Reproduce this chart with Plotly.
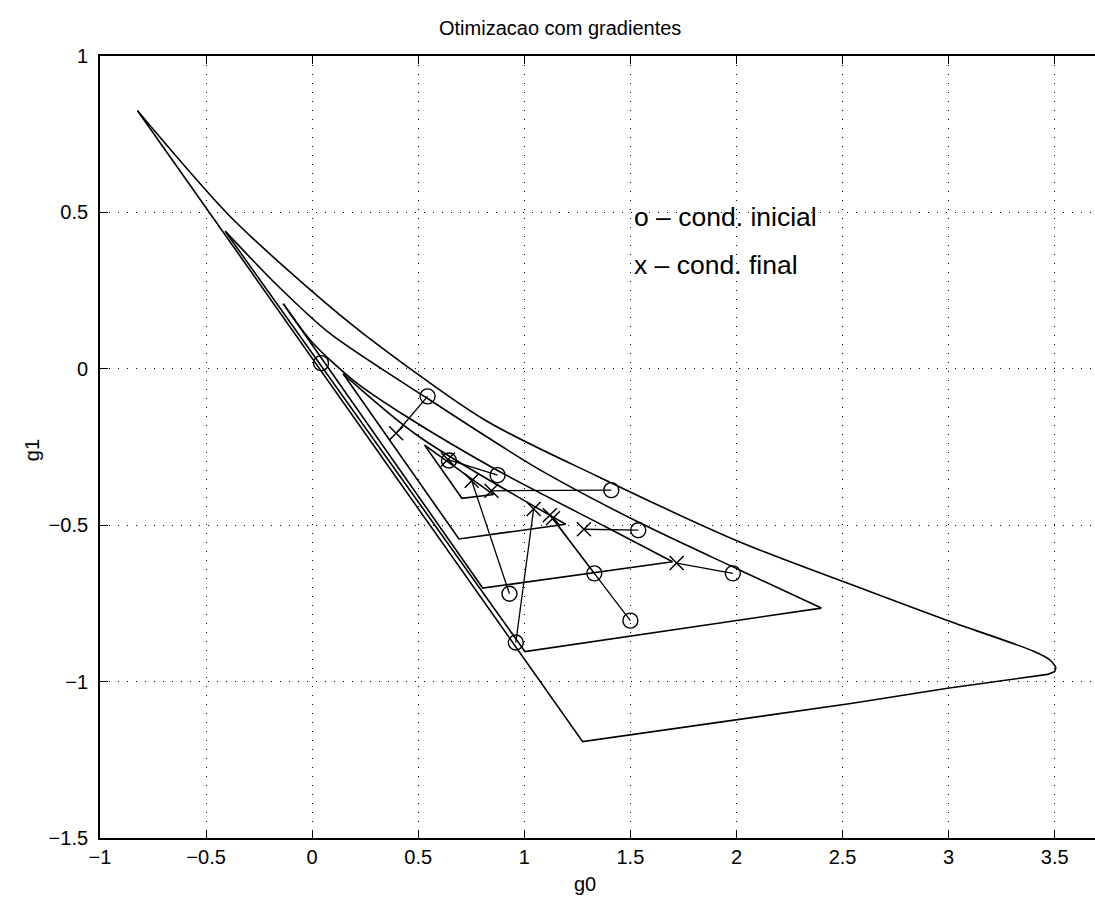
import plotly.graph_objects as go

# Stability regions in the (g0, g1) plane.  Each region has a curved upper
# boundary (apex -> right vertex) and straight edges closing it
# (right vertex -> bottom vertex -> apex).
region1_upper_g0 = [-0.823, -0.392, 0.004, 0.242, 0.812, 1.349, 2.013,
                    2.628, 3.007, 3.401, 3.48, 3.506]
region1_upper_g1 = [0.825, 0.491, 0.245, 0.112, -0.163, -0.345, -0.553,
                    -0.712, -0.808, -0.903, -0.932, -0.955]
region1_edge_g0 = [3.506, 3.50, 3.466, 2.995, 2.539, 2.303, 1.275, -0.823]
region1_edge_g1 = [-0.955, -0.968, -0.977, -1.021, -1.07, -1.093, -1.192, 0.825]

region2_upper_g0 = [-0.41, -0.169, 0.082, 0.544, 1.066, 1.537, 2.014, 2.40]
region2_upper_g1 = [0.44, 0.27, 0.114, -0.095, -0.32, -0.49, -0.643, -0.765]
region2_edge_g0 = [2.40, 1.003, -0.41]
region2_edge_g1 = [-0.765, -0.904, 0.44]

region3_upper_g0 = [-0.136, 0.0, 0.2, 0.45, 0.874, 1.383, 1.699]
region3_upper_g1 = [0.208, 0.085, -0.04, -0.155, -0.325, -0.505, -0.617]
region3_edge_g0 = [1.699, 0.804, -0.136]
region3_edge_g1 = [-0.617, -0.701, 0.208]

region4_upper_g0 = [0.146, 0.498, 1.195]
region4_upper_g1 = [-0.016, -0.214, -0.497]
region4_edge_g0 = [1.195, 0.692, 0.146]
region4_edge_g1 = [-0.497, -0.544, -0.016]

region5_upper_g0 = [0.53, 0.855]
region5_upper_g1 = [-0.244, -0.402]
region5_edge_g0 = [0.855, 0.706, 0.53]
region5_edge_g1 = [-0.402, -0.414, -0.244]

# Gradient runs: initial condition (o) -> final condition (x)
start_g0 = [0.544, 0.874, 1.41, 1.537, 1.983, 1.33, 1.50, 0.93, 0.96]
start_g1 = [-0.088, -0.34, -0.388, -0.516, -0.654, -0.654, -0.805, -0.719, -0.875]
end_g0 = [0.396, 0.64, 0.845, 1.281, 1.718, 1.135, 1.12, 0.752, 1.044]
end_g1 = [-0.206, -0.29, -0.39, -0.513, -0.621, -0.478, -0.468, -0.358, -0.448]

# Extra initial points sitting on the region edges
extra_start_g0 = [0.042, 0.645]
extra_start_g1 = [0.018, -0.293]

x_ticks = [-1, -0.5, 0, 0.5, 1, 1.5, 2, 2.5, 3, 3.5]
y_ticks = [-1.5, -1, -0.5, 0, 0.5, 1]

FONT = "Liberation Sans, Arial, Helvetica, sans-serif"
LINE = dict(color="black", width=1.6)

fig = go.Figure()

uppers = [(region1_upper_g0, region1_upper_g1), (region2_upper_g0, region2_upper_g1),
          (region3_upper_g0, region3_upper_g1), (region4_upper_g0, region4_upper_g1),
          (region5_upper_g0, region5_upper_g1)]
edges = [(region1_edge_g0, region1_edge_g1), (region2_edge_g0, region2_edge_g1),
         (region3_edge_g0, region3_edge_g1), (region4_edge_g0, region4_edge_g1),
         (region5_edge_g0, region5_edge_g1)]

for gx, gy in uppers:
    fig.add_trace(go.Scatter(x=gx, y=gy, mode="lines",
                             line=dict(color="black", width=1.6, shape="spline",
                                       smoothing=0.8),
                             hoverinfo="skip", showlegend=False))
for gx, gy in edges:
    fig.add_trace(go.Scatter(x=gx, y=gy, mode="lines", line=LINE,
                             hoverinfo="skip", showlegend=False))

for x0, y0, x1, y1 in zip(start_g0, start_g1, end_g0, end_g1):
    fig.add_trace(go.Scatter(x=[x0, x1], y=[y0, y1], mode="lines",
                             line=dict(color="black", width=1.3),
                             hoverinfo="skip", showlegend=False))

fig.add_trace(go.Scatter(
    x=start_g0 + extra_start_g0, y=start_g1 + extra_start_g1, mode="markers",
    marker=dict(symbol="circle-open", size=15, color="black",
                line=dict(width=1.4, color="black")),
    showlegend=False))
fig.add_trace(go.Scatter(
    x=end_g0, y=end_g1, mode="markers",
    marker=dict(symbol="x-thin-open", size=14, color="black",
                line=dict(width=1.5, color="black")),
    showlegend=False))

axis_common = dict(
    showgrid=True, gridcolor="black", gridwidth=1, griddash="1px,8px",
    zeroline=False, showline=True, linecolor="black", linewidth=1.8,
    ticks="inside", ticklen=8, tickcolor="black", tickwidth=1.2,
    tickfont=dict(family=FONT, size=20, color="black"),
)

fig.update_xaxes(range=[-1, 3.69], tickvals=x_ticks, mirror="ticks",
                 **axis_common)
fig.update_yaxes(range=[-1.5, 1], tickvals=y_ticks, mirror=False,
                 ticklabelstandoff=6, **axis_common)

text_font = dict(family=FONT, size=20, color="black")
note_font = dict(family=FONT, size=26.5, color="black")
fig.add_annotation(x=1.508, y=0.486, xref="x", yref="y", text="o – cond. inicial",
                   showarrow=False, xanchor="left", yanchor="middle", font=note_font)
fig.add_annotation(x=1.508, y=0.333, xref="x", yref="y", text="x – cond. final",
                   showarrow=False, xanchor="left", yanchor="middle", font=note_font)
fig.add_annotation(x=0.4623, y=1.0358, xref="paper", yref="paper",
                   text="Otimizacao com gradientes", showarrow=False,
                   xanchor="center", yanchor="middle", font=text_font)
fig.add_annotation(x=0.4874, y=-0.0588, xref="paper", yref="paper", text="g0",
                   showarrow=False, xanchor="center", yanchor="middle", font=text_font)
fig.add_annotation(x=-0.0683, y=0.496, xref="paper", yref="paper", text="g1",
                   showarrow=False, xanchor="center", yanchor="middle",
                   textangle=-90, font=text_font)

fig.update_layout(
    width=1095, height=905,
    margin=dict(l=100, r=0, t=56, b=67),
    paper_bgcolor="white", plot_bgcolor="white",
)

fig.write_html("out.html")
